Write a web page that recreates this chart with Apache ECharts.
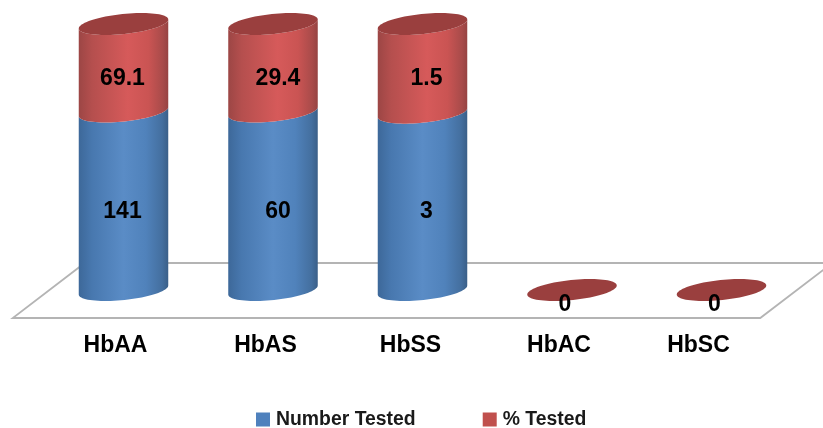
<!DOCTYPE html>
<html>
<head>
<meta charset="utf-8">
<style>html,body{margin:0;padding:0;background:#fff}#c{width:823px;height:428px}</style>
<script src="https://cdn.jsdelivr.net/npm/echarts@6/dist/echarts.min.js"></script>
</head>
<body>
<div id="c"></div>
<script>
const categories = ['HbAA', 'HbAS', 'HbSS', 'HbAC', 'HbSC'];
const numberTested = [141, 60, 3, 0, 0];
const percentTested = [69.1, 29.4, 1.5, 0, 0];

const FONT = '"Liberation Sans", Arial, sans-serif';
const tickShift = [16, 15, 24, 26, 46];
const labelShift = [-1, 5, 4, -7, -7];

function share(i, v) {
  const t = numberTested[i] + percentTested[i];
  return t ? v / t : 0;
}
const blueData = categories.map((c, i) => [i, 0, share(i, numberTested[i]), numberTested[i]]);
const redData = categories.map((c, i) => [i, share(i, numberTested[i]), 1 * (numberTested[i] + percentTested[i] > 0), percentTested[i]]);

const A = 45, B = 10, TH = -6 * Math.PI / 180;
function pt(cx, cy, t) {
  const x = A * Math.cos(t), y = B * Math.sin(t);
  return [cx + x * Math.cos(TH) - y * Math.sin(TH), cy + x * Math.sin(TH) + y * Math.cos(TH)];
}
// lower half of the tilted ellipse, left to right
function lower(cx, cy) {
  const out = [];
  for (let k = 0; k <= 40; k++) out.push(pt(cx, cy, Math.PI - Math.PI * k / 40));
  return out;
}
function full(cx, cy) {
  const out = [];
  for (let k = 0; k < 80; k++) out.push(pt(cx, cy, 2 * Math.PI * k / 80));
  return out;
}
function grad(stops) {
  return {
    type: 'linear', x: 0, y: 0, x2: 1, y2: 0,
    colorStops: stops.map(s => ({ offset: s[0], color: s[1] }))
  };
}
const blueGrad = grad([[0, '#3d6899'], [0.15, '#4878af'], [0.5, '#5a8cc6'], [0.75, '#5082bb'], [0.93, '#446f9f'], [1, '#3a5f88']]);
const redGrad = grad([[0, '#9c4645'], [0.15, '#b54f4e'], [0.55, '#d65a5a'], [0.78, '#ca5453'], [0.94, '#a84b4a'], [1, '#964342']]);

function cylinder(fill, withCap) {
  return function (params, api) {
    const i = api.value(0);
    const [cx, y0] = api.coord([i, api.value(1)]);
    const y1 = api.coord([i, api.value(2)])[1];
    const v = api.value(3);
    const children = [];
    if (v > 0) {
      const pts = lower(cx, y0).concat(lower(cx, y1).reverse());
      children.push({ type: 'polygon', shape: { points: pts }, style: { fill: fill } });
    }
    if (withCap) {
      children.push({
        type: 'polygon', shape: { points: full(cx, y1) },
        style: { fill: '#9a3f3e' }
      });
    }
    if (v > 0 || withCap) {
      const ly = v > 0 ? (y0 + y1) / 2 + 10.5 : y1 + 15;
      children.push({
        type: 'text',
        style: {
          text: String(v), x: cx + labelShift[i], y: ly,
          align: 'center', verticalAlign: 'middle',
          fill: '#000', font: 'bold 23px ' + FONT
        }
      });
    }
    return { type: 'group', children: children };
  };
}

function floor(params, api) {
  const g = params.coordSys;
  const b = g.y + g.height;
  const L = g.x, R = g.x + g.width;
  return {
    type: 'polygon',
    shape: { points: [[L - 36, b + 28], [R - 36, b + 28], [R + 36, b - 27], [L + 36, b - 27]] },
    style: { fill: '#fff', stroke: '#b4b4b4', lineWidth: 1.8 }
  };
}

const rich = {};
tickShift.forEach((p, i) => {
  rich['s' + i] = { fontFamily: FONT, fontWeight: 'bold', fontSize: 23, color: '#000', padding: [0, p, 0, 0] };
});

const chart = echarts.init(document.getElementById('c'), null, { renderer: 'canvas' });
chart.setOption({
  animation: false,
  backgroundColor: '#fff',
  grid: { left: 48.75, right: 26.75, top: 24, height: 266 },
  xAxis: {
    type: 'category', data: categories,
    axisLine: { show: false }, axisTick: { show: false }, splitLine: { show: false },
    axisLabel: { margin: 44, interval: 0, formatter: (v, i) => '{s' + i + '|' + v + '}', rich: rich }
  },
  yAxis: { type: 'value', min: 0, max: 1, show: false },
  legend: {
    left: 256, top: 410, padding: 0, itemWidth: 14, itemHeight: 14, itemGap: 67,
    icon: 'rect', selectedMode: false,
    data: ['Number Tested', '% Tested'],
    textStyle: { fontFamily: FONT, fontWeight: 'bold', fontSize: 19.4, color: '#1a1a1a', padding: [0, 0, 0, 1] }
  },
  series: [
    { type: 'custom', name: 'floor', z: 1, silent: true, data: [[0, 0]], renderItem: floor },
    { type: 'custom', name: 'Number Tested', z: 2, data: blueData, encode: { x: 0, y: 2 },
      itemStyle: { color: '#4f81bd' }, renderItem: cylinder(blueGrad, false) },
    { type: 'custom', name: '% Tested', z: 3, data: redData, encode: { x: 0, y: 2 },
      itemStyle: { color: '#c0504d' }, renderItem: cylinder(redGrad, true) }
  ]
});
</script>
</body>
</html>
